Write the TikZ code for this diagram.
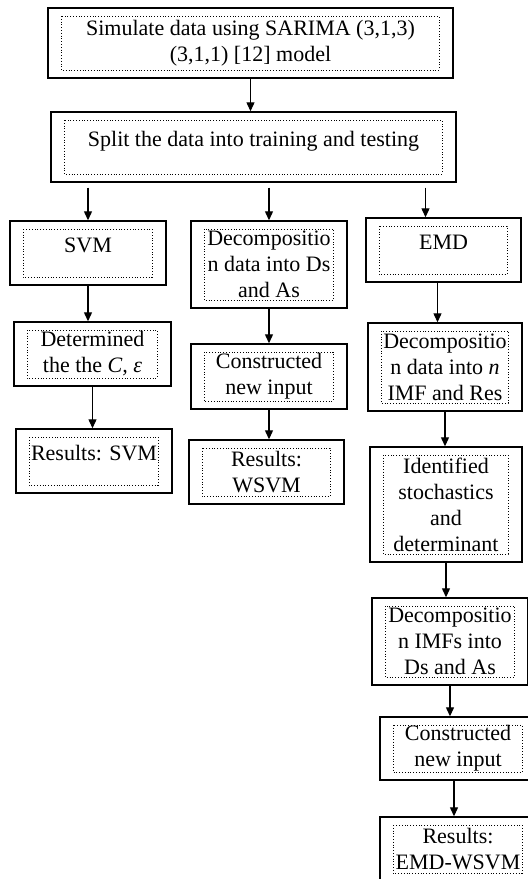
\documentclass[tikz,border=0pt]{standalone}
\usepackage{fontspec}
\setmainfont{Liberation Serif}
\usetikzlibrary{arrows.meta}

\begin{document}
\begin{tikzpicture}[
		x=0.5pt, y=-0.5pt,
		>={Triangle[length=4.5pt,width=4pt]},
		every node/.style={font=\fontsize{11}{13}\selectfont, align=center},
		boxsize/.style 2 args={minimum width=#1*0.5pt, minimum height=#2*0.5pt},
		flowbox/.style={draw, line width=0.7pt, inner sep=0pt,
			path picture={\draw[densely dotted, line width=0.4pt]
				([shift={(6.5pt,-4pt)}]path picture bounding box.north west) rectangle
				([shift={(-7pt,4pt)}]path picture bounding box.south east);}},
		toptext/.style={text depth=8pt},
		flow/.style={->, line width=0.6pt}
	]

		\useasboundingbox (0,0) rectangle (528,879);
		\clip (0,0) rectangle (528,879);

		% Top steps
		\node[flowbox, boxsize={405}{70}] (sim) at (250.5,43) {Simulate data using SARIMA (3,1,3)\\(3,1,1) [12] model};
		\node[flowbox, toptext, boxsize={405}{70}] (split) at (253.5,147) {Split the data into training and testing};

		% SVM
		\node[flowbox, toptext, boxsize={156}{64}] (svm) at (88,253) {SVM};
		\node[flowbox, boxsize={157}{64}] (tune) at (92.5,354) {Determined\\the the \textit{C, ε}};
		\node[flowbox, toptext, boxsize={156}{64}] (rsvm) at (94,461) {Results: SVM};

		% WSVM
		\node[flowbox, boxsize={156}{87}] (wdec) at (269,264.5) {Decompositio\\n data into Ds\\and As};
		\node[flowbox, boxsize={156}{65}] (wnew) at (269,376.5) {Constructed\\new input};
		\node[flowbox, boxsize={155}{64}] (rwsvm) at (266.5,472) {Results:\\WSVM};

		% EMD-WSVM
		\node[flowbox, toptext, boxsize={155}{64}] (emd) at (443.5,250) {EMD};
		\node[flowbox, boxsize={154}{88}] (imf) at (445,367) {Decompositio\\n data into \textit{n}\\IMF and Res};
		\node[flowbox, boxsize={152}{115}] (ident) at (446,504.5) {Identified\\stochastics\\and\\determinant};
		\node[flowbox, boxsize={156}{87}] (imfdec) at (450,641.5) {Decompositio\\n IMFs into\\Ds and As};
		\node[flowbox, boxsize={156}{63}] (enew) at (458,748.5) {Constructed\\new input};
		\node[flowbox, boxsize={156}{64}] (remd) at (458,849) {Results:\\EMD-WSVM};

		% Arrows
		\draw[flow] (sim.south) -- (sim.south |- split.north);
		\draw[flow, shorten <=2.5pt] (split.south -| svm.north) -- (svm.north);
		\draw[flow, shorten <=2.5pt] (split.south -| wdec.north) -- (wdec.north);
		\draw[flow, shorten <=2.5pt] ([xshift=-9pt]split.south -| emd.north) -- ([xshift=-9pt]emd.north);

		\draw[flow] (svm.south) -- (svm.south |- tune.north);
		\draw[flow] (tune.south) -- (tune.south |- rsvm.north);

		\draw[flow] (wdec.south) -- (wdec.south |- wnew.north);
		\draw[flow] (wnew.south) -- (wnew.south |- rwsvm.north);

		\draw[flow] ([xshift=-3pt]emd.south) -- ([xshift=-3pt]emd.south |- imf.north);
		\draw[flow] (imf.south) -- (imf.south |- ident.north);
		\draw[flow] (ident.south) -- (ident.south |- imfdec.north);
		\draw[flow] (imfdec.south) -- (imfdec.south |- enew.north);
		\draw[flow] ([xshift=-2pt]enew.south) -- ([xshift=-2pt]enew.south |- remd.north);
	\end{tikzpicture}
\end{document}
